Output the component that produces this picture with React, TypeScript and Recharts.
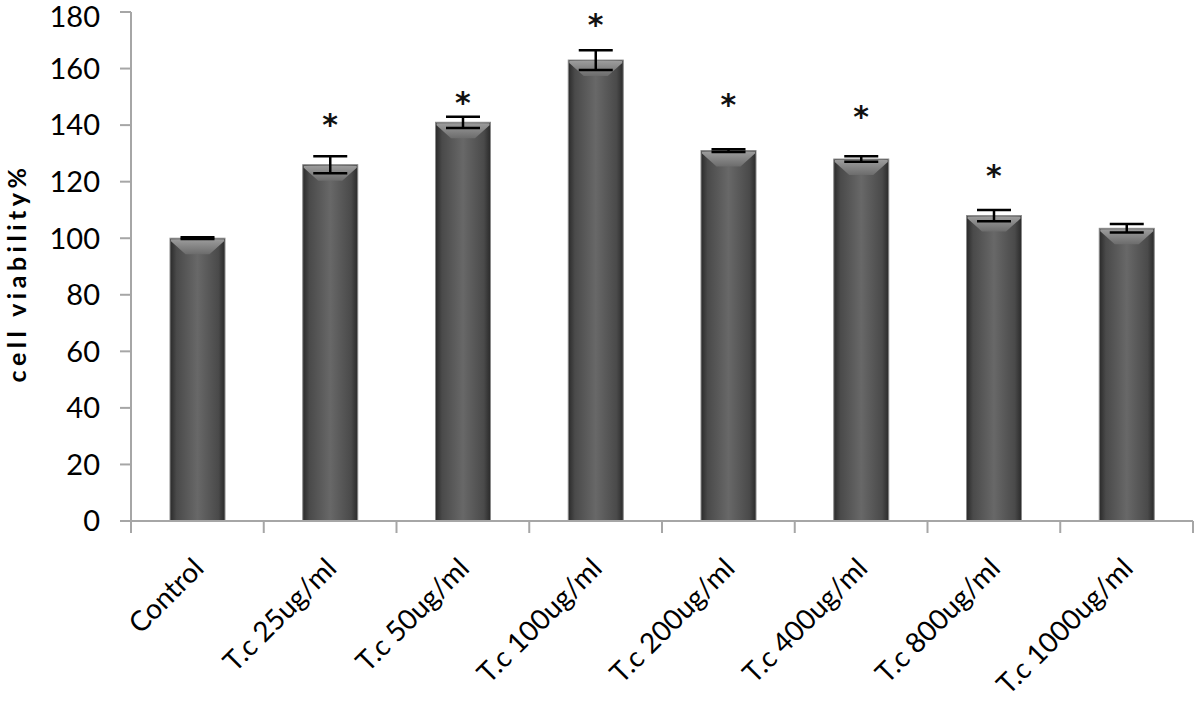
import { ComposedChart, Bar, XAxis, YAxis, ErrorBar, Scatter, Label } from 'recharts';

const categories = [
  'Control',
  'T.c 25ug/ml',
  'T.c 50ug/ml',
  'T.c 100ug/ml',
  'T.c 200ug/ml',
  'T.c 400ug/ml',
  'T.c 800ug/ml',
  'T.c 1000ug/ml',
];
const viability = [100, 126, 141, 163, 131, 128, 108, 103.5];
const sd = [0.3, 3, 2, 3.5, 0.5, 1, 2, 1.5];
// height at which the significance star sits (null = not significant)
const starAt = [null, 141, 149, 176.5, 148, 144, 123, null];
const yTicks = [0, 20, 40, 60, 80, 100, 120, 140, 160, 180];

const data = categories.map((name, i) => ({
  name,
  value: viability[i],
  err: sd[i],
  star: starAt[i],
}));

const W = 1200;
const H = 714;
const margin = { top: 12, right: 7, bottom: 0, left: 0 };
const xAxisH = 193;
const yAxisW = 131;
const axisY = H - margin.bottom - xAxisH;
const band = (W - margin.left - margin.right - yAxisW) / categories.length;
const FONT = 'Lato, "Open Sans", sans-serif';
const AXIS_GRAY = '#a6a6a6';

const BarShape = (props: any) => {
  const { x, y, width, height } = props;
  if (!height || height <= 0) return null;
  const bevel = Math.min(16, height);
  return (
    <g>
      <rect x={x} y={y} width={width} height={height} fill="url(#barGrad)" stroke="#8a8a8a" strokeWidth={1} />
      <polygon
        points={`${x + 1},${y + 1} ${x + width - 1},${y + 1} ${x + width - 1},${y + 3} ${x + width / 2 + 12},${y + bevel} ${x + width / 2 - 12},${y + bevel} ${x + 1},${y + 3}`}
        fill="url(#bevelGrad)"
      />
    </g>
  );
};

const StarShape = (props: any) => {
  const { cx, cy, payload } = props;
  if (payload == null || payload.star == null || !Number.isFinite(cy)) return null;
  return (
    <text
      x={cx}
      y={cy + 13}
      textAnchor="middle"
      fontSize={30}
      fontWeight={700}
      fontFamily="'DejaVu Sans', sans-serif"
      fill="#111"
    >
      *
    </text>
  );
};

const XTick = (props: any) => {
  const { x, payload, index } = props;
  const isLast = index === categories.length - 1;
  const tx = x + 8;
  const ty = axisY + 49;
  return (
    <g>
      <line x1={x - band / 2} y1={axisY} x2={x - band / 2} y2={axisY + 12} stroke={AXIS_GRAY} strokeWidth={2} />
      {isLast && (
        <line x1={x + band / 2} y1={axisY} x2={x + band / 2} y2={axisY + 12} stroke={AXIS_GRAY} strokeWidth={2} />
      )}
      <text
        x={tx}
        y={ty}
        textAnchor="end"
        transform={`rotate(-45, ${tx}, ${ty})`}
        fontSize={28}
        fontFamily={FONT}
        fill="#000"
      >
        {payload.value}
      </text>
    </g>
  );
};

const YTitle = () => (
  <text
    x={26}
    y={273}
    transform="rotate(-90, 26, 273)"
    textAnchor="middle"
    fontSize={25}
    fontWeight={700}
    letterSpacing={4.5}
    fontFamily={FONT}
    fill="#000"
  >
    cell viability%
  </text>
);

export default function App() {
  return (
    <div style={{ position: 'absolute', left: 0, top: 0, background: '#fff' }}>
      <ComposedChart width={W} height={H} data={data} margin={margin}>
        <defs>
          <linearGradient id="barGrad" x1="0" y1="0" x2="1" y2="0">
            <stop offset="0%" stopColor="#2a2a2a" />
            <stop offset="12%" stopColor="#4a4a4a" />
            <stop offset="50%" stopColor="#686868" />
            <stop offset="88%" stopColor="#4a4a4a" />
            <stop offset="100%" stopColor="#2a2a2a" />
          </linearGradient>
          <linearGradient id="bevelGrad" x1="0" y1="0" x2="0" y2="1">
            <stop offset="0%" stopColor="#9c9c9c" />
            <stop offset="100%" stopColor="#6c6c6c" />
          </linearGradient>
        </defs>
        <XAxis
          dataKey="name"
          axisLine={{ stroke: AXIS_GRAY, strokeWidth: 2 }}
          tickLine={false}
          tick={<XTick />}
          interval={0}
          height={xAxisH}
        />
        <YAxis
          domain={[0, 180]}
          ticks={yTicks}
          width={yAxisW}
          axisLine={{ stroke: AXIS_GRAY, strokeWidth: 2 }}
          tickLine={{ stroke: AXIS_GRAY, strokeWidth: 2 }}
          tickSize={11}
          tickMargin={20}
          tick={{ fontSize: 29, fontFamily: FONT, fill: '#000' }}
        >
          <Label content={<YTitle />} />
        </YAxis>
        <Bar dataKey="value" barSize={55} shape={<BarShape />} isAnimationActive={false}>
          <ErrorBar dataKey="err" width={17} stroke="#000" strokeWidth={2.5} isAnimationActive={false} />
        </Bar>
        <Scatter dataKey="star" shape={<StarShape />} isAnimationActive={false} />
      </ComposedChart>
    </div>
  );
}
